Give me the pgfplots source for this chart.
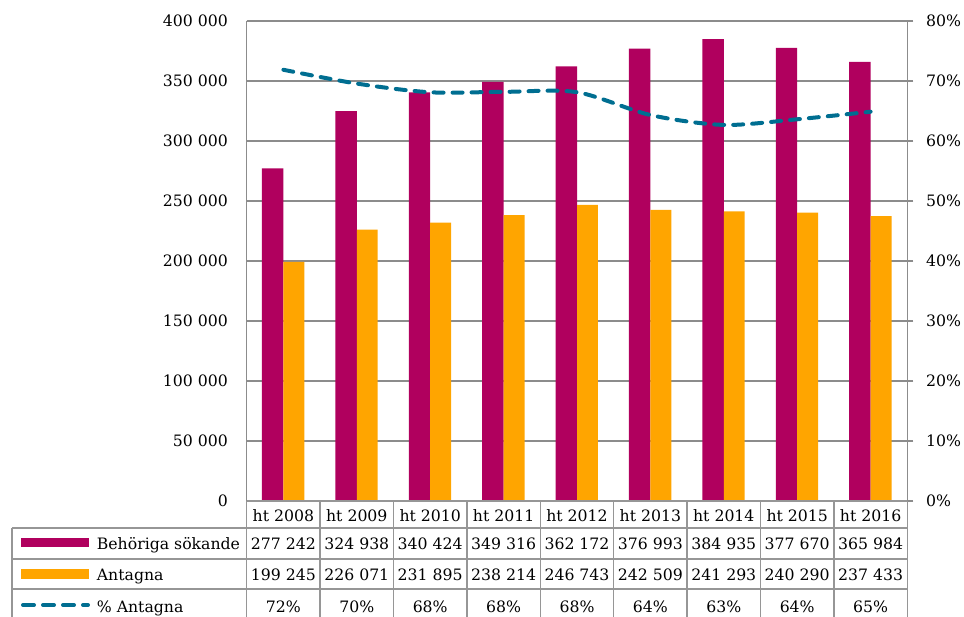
\documentclass[border=0pt]{standalone}
\usepackage{pgfplots}
\pgfplotsset{compat=1.18}
\usepackage{fontspec}
\setmainfont{DejaVu Serif}
\definecolor{cMag}{RGB}{176,0,94}
\definecolor{cOra}{RGB}{255,165,0}
\definecolor{cTeal}{RGB}{0,110,145}
\definecolor{cGrid}{RGB}{140,140,140}
\definecolor{cTab}{RGB}{150,150,150}
\newcommand{\myfont}{\fontsize{15.7}{18}\selectfont}
\begin{document}
\begin{tikzpicture}[x=1pt,y=1pt,font=\myfont]
\useasboundingbox (0,0) rectangle (964,617);
\begin{axis}[
  at={(246.7pt,116pt)}, anchor=south west,
  scale only axis, width=660.6pt, height=480pt,
  xmin=-0.5, xmax=8.5, ymin=0, ymax=400000,
  scaled y ticks=false,
  axis x line=none, axis y line*=left,
  axis line style={draw=cGrid, line width=1.5pt},
  ymajorgrids, grid style={draw=cGrid, line width=1.5pt},
  xtick=\empty,
  ytick={0,50000,100000,150000,200000,250000,300000,350000,400000},
  yticklabels={0,50 000,100 000,150 000,200 000,250 000,300 000,350 000,400 000},
  major tick length=0pt, ytick style={draw=none},
  yticklabel style={font=\myfont, anchor=east, inner sep=0pt, xshift=-18.7pt},
  clip=false,
]
\addplot[ybar, bar width=0.292, bar shift=-0.146, fill=cMag, draw=none]
  coordinates {(0,277242) (1,324938) (2,340424) (3,349316) (4,362172) (5,376993) (6,384935) (7,377670) (8,365984)};
\addplot[ybar, bar width=0.285, bar shift=0.1425, fill=cOra, draw=none]
  coordinates {(0,199245) (1,226071) (2,231895) (3,238214) (4,246743) (5,242509) (6,241293) (7,240290) (8,237433)};
\end{axis}
\begin{axis}[
  at={(246.7pt,116pt)}, anchor=south west,
  scale only axis, width=660.6pt, height=480pt,
  xmin=-0.5, xmax=8.5, ymin=0, ymax=80,
  scaled y ticks=false,
  axis x line=none, axis y line*=right,
  axis line style={draw=cGrid, line width=1.5pt},
  xtick=\empty,
  ytick={0,10,20,30,40,50,60,70,80},
  yticklabels={0\%,10\%,20\%,30\%,40\%,50\%,60\%,70\%,80\%},
  tick align=outside, major tick length=6pt,
  ytick style={draw=cGrid, line width=1.5pt},
  yticklabel style={font=\myfont, anchor=west, inner sep=0pt, xshift=12.7pt},
  clip=false,
]
\addplot[cTeal, line width=4pt, smooth, tension=0.5, line cap=round, dash pattern=on 10pt off 9pt]
  coordinates {(0,71.87) (1,69.57) (2,68.12) (3,68.19) (4,68.13) (5,64.33) (6,62.68) (7,63.62) (8,64.88)};
\end{axis}
% data table
\begin{scope}[draw=cTab, line width=1.5pt]
\draw (246.7,116) -- (907.3,116);
\draw (12,89) -- (907.3,89);
\draw (12,58) -- (907.3,58);
\draw (12,28) -- (907.3,28);
\draw (12,89) -- (12,-5);
\foreach \k in {0,...,9} {
  \pgfmathsetmacro{\xx}{246.7+73.4*\k}
  \draw (\xx,116) -- (\xx,-5);
}
\end{scope}
\foreach \c [count=\i from 0] in {ht 2008,ht 2009,ht 2010,ht 2011,ht 2012,ht 2013,ht 2014,ht 2015,ht 2016} {
  \pgfmathsetmacro{\xx}{246.7+73.4*(\i+0.5)}
  \node[anchor=base, inner sep=0pt] at (\xx,95.5) {\c};
}
\foreach \c [count=\i from 0] in {277 242,324 938,340 424,349 316,362 172,376 993,384 935,377 670,365 984} {
  \pgfmathsetmacro{\xx}{246.7+73.4*(\i+0.5)}
  \node[anchor=base, inner sep=0pt] at (\xx,67.7) {\c};
}
\foreach \c [count=\i from 0] in {199 245,226 071,231 895,238 214,246 743,242 509,241 293,240 290,237 433} {
  \pgfmathsetmacro{\xx}{246.7+73.4*(\i+0.5)}
  \node[anchor=base, inner sep=0pt] at (\xx,36.3) {\c};
}
\foreach \c [count=\i from 0] in {72\%,70\%,68\%,68\%,68\%,64\%,63\%,64\%,65\%} {
  \pgfmathsetmacro{\xx}{246.7+73.4*(\i+0.5)}
  \node[anchor=base, inner sep=0pt] at (\xx,4.3) {\c};
}
% legend keys
\fill[cMag] (21,69.7) rectangle (89,78.7);
\fill[cOra] (21,38) rectangle (89,47.7);
\draw[cTeal, line width=4pt, line cap=round, dash pattern=on 11pt off 9pt] (23,12) -- (88,12);
\node[anchor=base west, inner sep=0pt] at (96.7,67.7) {Behöriga sökande};
\node[anchor=base west, inner sep=0pt] at (96.7,36.3) {Antagna};
\node[anchor=base west, inner sep=0pt] at (96.7,4.3) {\% Antagna};
\end{tikzpicture}
\end{document}
